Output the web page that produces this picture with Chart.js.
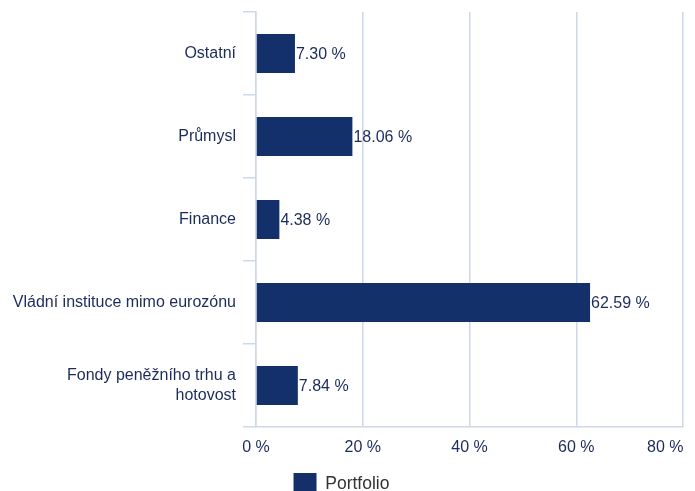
<!DOCTYPE html>
<html>
<head>
<meta charset="utf-8">
<script src="https://cdn.jsdelivr.net/npm/chart.js@4/dist/chart.umd.min.js"></script>
<style>
    html, body { margin: 0; padding: 0; background: #fff; }
    #wrap { width: 695px; height: 491px; }
</style>
</head>
<body>
<div id="wrap"><canvas id="sectorChart" width="695" height="491"></canvas></div>
<script>
// Chart data
const categories = [
    'Ostatní',
    'Průmysl',
    'Finance',
    'Vládní instituce mimo eurozónu',
    ['Fondy peněžního trhu a', 'hotovost']
];
const portfolioValues = [7.30, 18.06, 4.38, 62.59, 7.84];
const xTicks = [0, 20, 40, 60, 80];

const NAVY = '#13306b';
const TEXT = '#1b2b5b';
const GRID = '#cdd8e8';
const FONT = "'Liberation Sans', Arial, Helvetica, sans-serif";

// Draw value labels at the end of each bar
const valueLabels = {
    id: 'valueLabels',
    afterDatasetsDraw(chart) {
        const ctx = chart.ctx;
        const meta = chart.getDatasetMeta(0);
        ctx.save();
        ctx.font = '16px ' + FONT;
        ctx.fillStyle = TEXT;
        ctx.textAlign = 'left';
        ctx.textBaseline = 'middle';
        meta.data.forEach((bar, i) => {
            const text = portfolioValues[i].toFixed(2) + ' %';
            ctx.fillText(text, bar.x + 1, bar.y + 1);
        });
        ctx.restore();
    }
};

const ctx = document.getElementById('sectorChart').getContext('2d');
new Chart(ctx, {
    type: 'bar',
    data: {
        labels: categories,
        datasets: [{
            label: 'Portfolio',
            data: portfolioValues,
            backgroundColor: NAVY,
            borderWidth: 0,
            categoryPercentage: 1,
            barPercentage: 0.47
        }]
    },
    options: {
        indexAxis: 'y',
        responsive: false,
        animation: false,
        layout: { padding: { top: 12, right: 12, left: 0, bottom: -14 } },
        scales: {
            x: {
                min: 0,
                max: 80,
                afterBuildTicks: scale => {
                    scale.ticks = xTicks.map(v => ({ value: v }));
                },
                afterFit: scale => {
                    scale.paddingRight = 0;
                    scale.height = 46;
                },
                grid: { color: GRID, lineWidth: 1.5, drawTicks: false },
                border: { color: GRID, width: 1.5 },
                ticks: {
                    color: TEXT,
                    font: { family: FONT, size: 16 },
                    padding: 11,
                    maxRotation: 0,
                    callback: function(value) {
                        // last label sits inside the canvas, right-aligned to its grid line
                        return value === 80 ? '80 %        ' : value + ' %';
                    }
                }
            },
            y: {
                afterFit: scale => {
                    scale.width = 256;
                    scale.paddingTop = 0;
                    scale.paddingBottom = 0;
                },
                grid: {
                    offset: true,
                    drawOnChartArea: false,
                    drawTicks: true,
                    tickLength: 13,
                    color: GRID,
                    lineWidth: 1.5
                },
                border: { color: GRID, width: 1.5 },
                ticks: {
                    color: TEXT,
                    font: { family: FONT, size: 16, lineHeight: 1.25 },
                    padding: 7
                }
            }
        },
        plugins: {
            legend: {
                position: 'bottom',
                labels: {
                    boxWidth: 23,
                    boxHeight: 22,
                    padding: 0,
                    color: '#333333',
                    font: { family: FONT, size: 17.5 }
                }
            },
            tooltip: { enabled: false }
        }
    },
    plugins: [valueLabels]
});
</script>
</body>
</html>
